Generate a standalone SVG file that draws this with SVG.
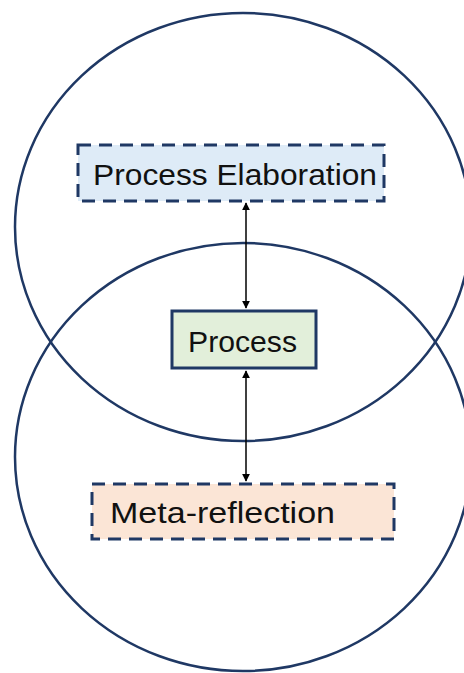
<svg xmlns="http://www.w3.org/2000/svg" width="464" height="673" viewBox="0 0 464 673">
<defs>
<style>
.ring{fill:none;stroke:#1F3864;stroke-width:2.5}
.box{stroke:#1F3864;stroke-width:3}
.dash{stroke-dasharray:13 8}
.lbl{font-family:"Liberation Sans",Arial,sans-serif;font-size:30px;fill:#111}
.conn{stroke:#000;stroke-width:1.5;fill:none;marker-start:url(#ah);marker-end:url(#ah)}
</style>
<marker id="ah" viewBox="0 0 10 10" refX="9" refY="5" markerWidth="8" markerHeight="8" markerUnits="userSpaceOnUse" orient="auto-start-reverse">
<path d="M0,0 L10,5 L0,10 z" fill="#000"/>
</marker>
</defs>
<rect width="464" height="673" fill="#fff"/>
<g id="circles">
<ellipse class="ring" cx="243" cy="227" rx="228" ry="214"/>
<ellipse class="ring" cx="243" cy="457" rx="228" ry="214"/>
</g>
<g id="connectors">
<line class="conn" x1="246" y1="203" x2="246" y2="308"/>
<line class="conn" x1="246" y1="371" x2="246" y2="481"/>
</g>
<g id="node-elaboration">
<rect class="box dash" x="78" y="145" width="306" height="56" fill="#DEEBF7"/>
<text class="lbl" x="93" y="185" textLength="284" lengthAdjust="spacingAndGlyphs">Process Elaboration</text>
</g>
<g id="node-process">
<rect class="box" x="172" y="311" width="144" height="57" fill="#E2EFDA"/>
<text class="lbl" x="188" y="352" textLength="109" lengthAdjust="spacingAndGlyphs">Process</text>
</g>
<g id="node-meta">
<rect class="box dash" x="92" y="484" width="302" height="55" fill="#FBE5D6"/>
<text class="lbl" x="110" y="523" textLength="225" lengthAdjust="spacingAndGlyphs">Meta-reflection</text>
</g>
</svg>
